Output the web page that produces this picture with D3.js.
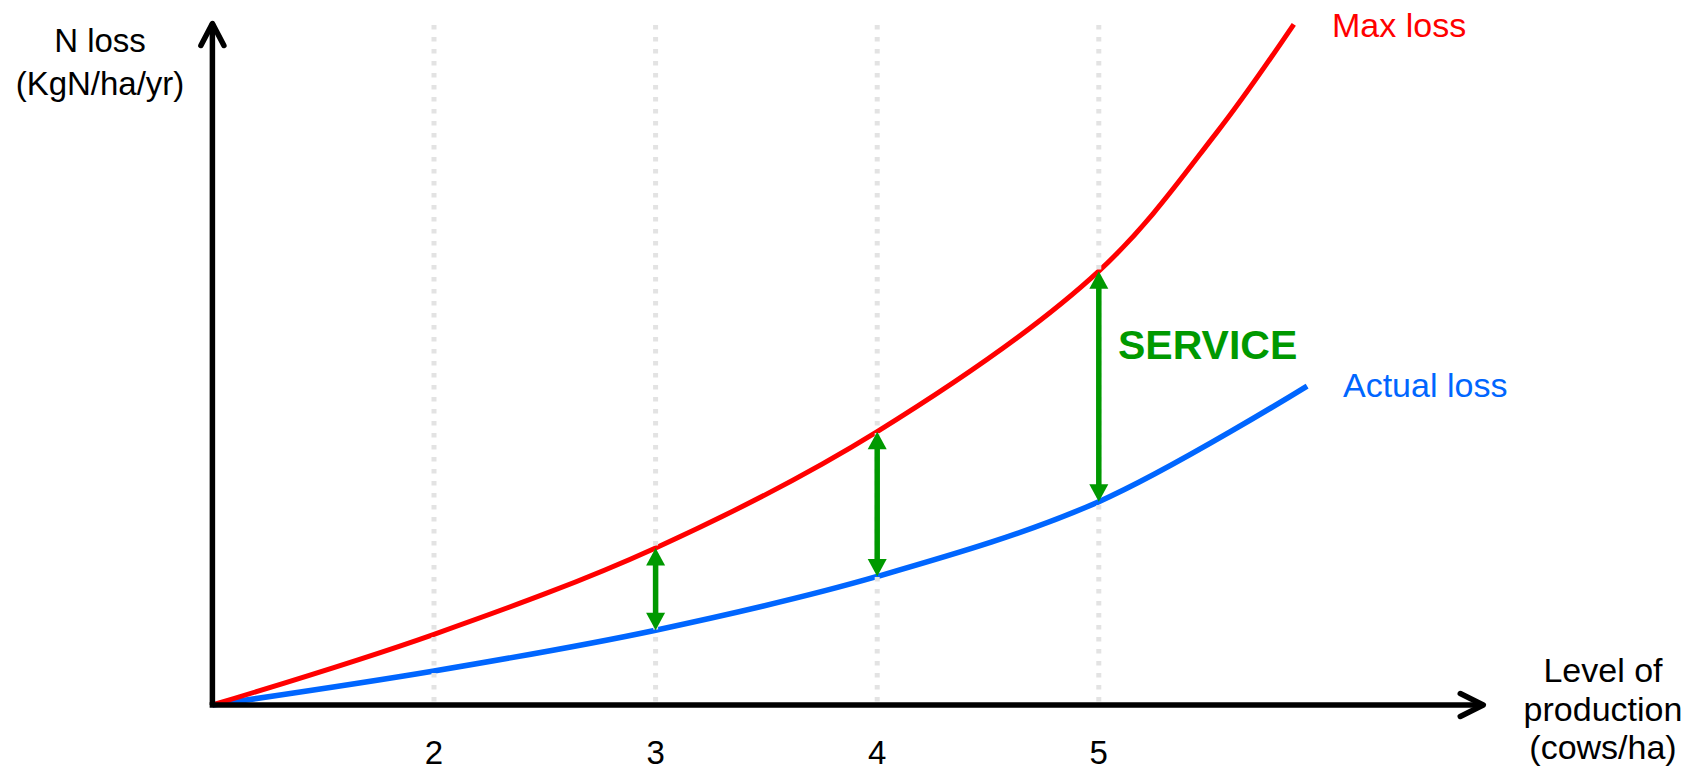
<!DOCTYPE html>
<html>
<head>
<meta charset="utf-8">
<script src="https://cdn.jsdelivr.net/npm/d3@7"></script>
<style>
  html, body { margin: 0; padding: 0; background: #fff; }
  svg { display: block; font-family: "Liberation Sans", Arial, sans-serif; }
</style>
</head>
<body>
<svg id="chart" width="1699" height="771"></svg>
<script>
// ---- data ----
const xTicks = [2, 3, 4, 5];
const maxLossX = [1, 2, 3, 4, 5, 5.53, 5.88];
const maxLossY = [0, 10.4, 23.1, 40.2, 63.8, 84.1, 100.1];
const actualLossX = [1, 2, 3, 4, 5, 5.94];
const actualLossY = [0, 5.0, 11.0, 18.9, 29.9, 46.9];
const serviceAt = [3, 4, 5];
const yAxisLabel = ["N loss", "(KgN/ha/yr)"];
const xAxisLabel = ["Level of", "production", "(cows/ha)"];
const seriesNames = ["Max loss", "Actual loss"];
const serviceLabel = "SERVICE";

// ---- styles ----
const RED = "#ff0000", BLUE = "#0066ff", GREEN = "#009900";

const svg = d3.select("#chart");
const x = d3.scaleLinear().domain([1, 5]).range([212.4, 1098.8]);
const y = d3.scaleLinear().domain([0, 100]).range([705, 25]);

const maxPts = maxLossX.map((v, i) => [v, maxLossY[i]]);
const actPts = actualLossX.map((v, i) => [v, actualLossY[i]]);
const line = d3.line().x(d => x(d[0])).y(d => y(d[1])).curve(d3.curveCatmullRom.alpha(0.5));

function valueAt(pathNode, px) {
  const L = pathNode.getTotalLength();
  let lo = 0, hi = L;
  for (let i = 0; i < 40; i++) {
    const mid = (lo + hi) / 2;
    if (pathNode.getPointAtLength(mid).x < px) lo = mid; else hi = mid;
  }
  return pathNode.getPointAtLength((lo + hi) / 2).y;
}

// curves
const bluePath = svg.append("path").datum(actPts).attr("d", line)
  .attr("fill", "none").attr("stroke", BLUE).attr("stroke-width", 5.5);
const redPath = svg.append("path").datum(maxPts).attr("d", line)
  .attr("fill", "none").attr("stroke", RED).attr("stroke-width", 5);

// grid lines
const yTop = y(100);
svg.append("g").selectAll("line").data(xTicks).join("line")
  .attr("x1", d => x(d)).attr("x2", d => x(d))
  .attr("y1", yTop).attr("y2", y(0))
  .attr("stroke", "#e3e3e3").attr("stroke-width", 5)
  .attr("stroke-dasharray", "4.5 7.5");

// axes with open arrowheads
const ax = svg.append("g").attr("stroke", "#000").attr("stroke-width", 5.5)
  .attr("fill", "none").attr("stroke-linecap", "round").attr("stroke-linejoin", "round");
const x0 = x(1), y0 = y(0);
const yTip = y(100) - 1.5;
const xTip = x(6.735);
ax.append("path").attr("d", `M${x0},${y0}V${yTip}`).attr("stroke-linecap", "butt");
ax.append("path").attr("d", `M${x0 - 11.5},${yTip + 22}L${x0},${yTip}L${x0 + 11.5},${yTip + 22}`);
ax.append("path").attr("d", `M${x0 - 2.75},${y0}H${xTip}`).attr("stroke-linecap", "butt");
ax.append("path").attr("d", `M${xTip - 23},${y0 - 11.5}L${xTip},${y0}L${xTip - 23},${y0 + 11.5}`);

// service arrows
const ag = svg.append("g");
const hw = 9.5, hl = 17.5;
serviceAt.forEach(v => {
  const px = x(v);
  const yR = valueAt(redPath.node(), px);
  const yB = valueAt(bluePath.node(), px);
  ag.append("line").attr("x1", px).attr("x2", px)
    .attr("y1", yR + hl - 1).attr("y2", yB - hl + 1)
    .attr("stroke", GREEN).attr("stroke-width", 5.5);
  ag.append("path").attr("fill", GREEN)
    .attr("d", `M${px},${yR}L${px + hw},${yR + hl}L${px - hw},${yR + hl}Z`);
  ag.append("path").attr("fill", GREEN)
    .attr("d", `M${px},${yB}L${px + hw},${yB - hl}L${px - hw},${yB - hl}Z`);
});

// tick labels
svg.append("g").selectAll("text").data(xTicks).join("text")
  .attr("x", d => x(d)).attr("y", 764)
  .attr("text-anchor", "middle").attr("font-size", 33).attr("fill", "#000")
  .text(d => d);

// axis titles
svg.append("text").attr("text-anchor", "middle").attr("font-size", 33).attr("fill", "#000")
  .selectAll("tspan").data(yAxisLabel).join("tspan")
  .attr("x", 100).attr("y", (d, i) => 52 + i * 43).text(d => d);

svg.append("text").attr("text-anchor", "middle").attr("font-size", 34).attr("fill", "#000")
  .selectAll("tspan").data(xAxisLabel).join("tspan")
  .attr("x", 1603).attr("y", (d, i) => 682 + i * 38.5).text(d => d);

// series labels
svg.append("text").attr("x", 1332).attr("y", 36.5).attr("font-size", 34)
  .attr("fill", RED).text(seriesNames[0]);
svg.append("text").attr("x", 1343).attr("y", 397.3).attr("font-size", 34)
  .attr("fill", BLUE).text(seriesNames[1]);
svg.append("text").attr("x", 1118).attr("y", 359.3).attr("font-size", 41)
  .attr("font-weight", "bold").attr("fill", GREEN).text(serviceLabel);
</script>
</body>
</html>
